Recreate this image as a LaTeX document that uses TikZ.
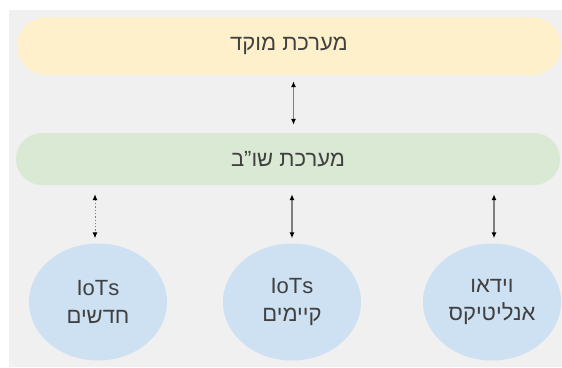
\documentclass[tikz,border=0pt]{standalone}
\usepackage{fontspec}
\setmainfont{Liberation Sans}
\newfontfamily\hebfont[Script=Hebrew]{Liberation Sans}
\TeXXeTstate=1
\usetikzlibrary{arrows.meta,shapes.misc,shapes.geometric}
\definecolor{bgGray}{HTML}{F0F0F0}
\definecolor{pillYellow}{HTML}{FFF0CC}
\definecolor{pillGreen}{HTML}{D9E9D4}
\definecolor{circBlue}{HTML}{CEE1F2}
\definecolor{txtGray}{HTML}{404040}
\tikzset{
	pill/.style={rounded rectangle, minimum width=544pt, inner sep=0pt, text=txtGray, font=\fontsize{22}{28}\selectfont\hebfont},
	blob/.style={ellipse, fill=circBlue, minimum width=138pt, minimum height=117pt, inner sep=0pt, align=center, text=txtGray, font=\fontsize{22}{28}\selectfont\hebfont},
	link/.style={{Latex[length=6pt,width=5pt,color=black]}-{Latex[length=6pt,width=5pt,color=black]}, line width=1.3pt, color=black!50}
}
\begin{document}
\begin{tikzpicture}[x=1pt,y=-1pt]
		%%%%% START %%%%%
		
		\useasboundingbox (0,0) rectangle (562,367);
		\fill[white] (0,0) rectangle (562,367);
		\fill[bgGray] (9,10) rectangle (562,367);
		
		\node[pill, fill=pillYellow, minimum height=58pt] (moked) at (289,46) {\beginR מערכת מוקד\endR};
		\node[pill, fill=pillGreen, minimum height=52pt] (shob) at (288,159) {\beginR מערכת שו”ב\endR};
		
		\node[blob] (iotNew) at (98,302) {IoTs\\\beginR חדשים\endR};
		\node[blob] (iotOld) at (292,302) {IoTs\\\beginR קיימים\endR};
		\node[blob] (video) at (492,302) {\beginR וידאו\endR\\\beginR אנליטיקס\endR};
		
		\draw[link, shorten <=6pt, shorten >=8pt] (moked.south -| 293.5,0) -- (shob.north -| 293.5,0);
		\draw[link, dotted, line width=1pt, shorten <=9pt, shorten >=5pt] (shob.south -| 95,0) -- (iotNew.north -| 95,0);
		\draw[link, shorten <=9pt, shorten >=5pt] (shob.south -| iotOld.north) -- (iotOld.north);
		\draw[link, shorten <=9pt, shorten >=5pt] (shob.south -| 494,0) -- (video.north -| 494,0);
		
		%%%%% END %%%%%
	\end{tikzpicture}
\end{document}
